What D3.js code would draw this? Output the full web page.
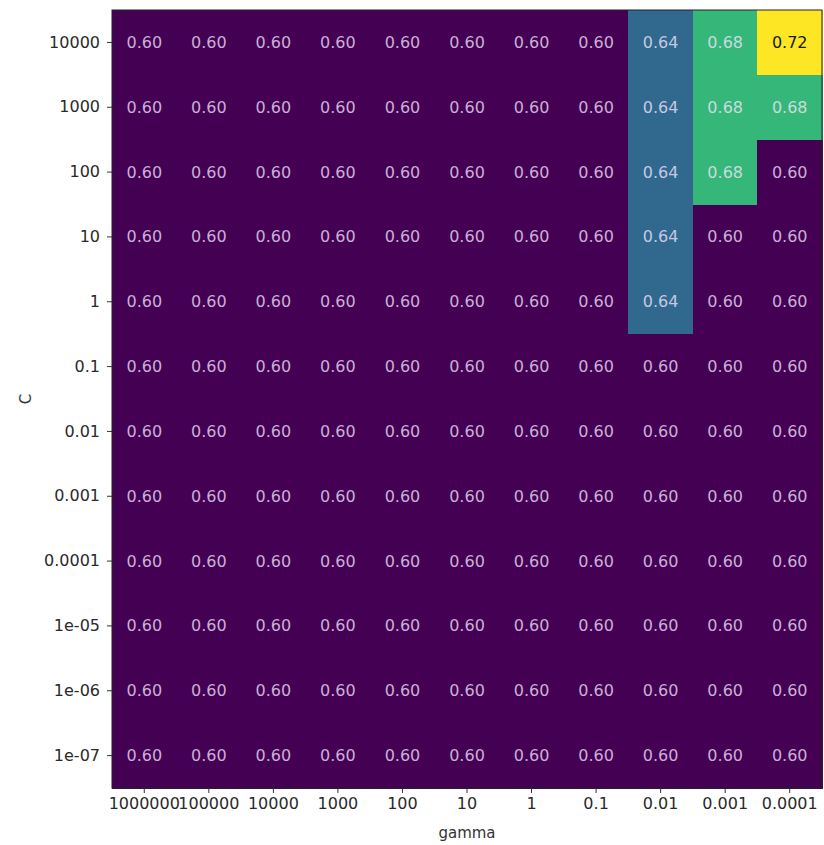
<!DOCTYPE html>
<html>
<head>
<meta charset="utf-8">
<script src="https://cdn.jsdelivr.net/npm/d3@7"></script>
<style>
  html, body { margin: 0; padding: 0; background: #fff; }
  svg { display: block; }
  text { font-family: "DejaVu Sans", sans-serif; }
</style>
</head>
<body>
<svg id="chart" width="824" height="845"></svg>
<script>
// Grid search: mean cross-validation accuracy for each (C, gamma) pair
const gammaLabels = ["1000000", "100000", "10000", "1000", "100", "10", "1", "0.1", "0.01", "0.001", "0.0001"];
const cLabels = ["10000", "1000", "100", "10", "1", "0.1", "0.01", "0.001", "0.0001", "1e-05", "1e-06", "1e-07"];

const row10000 = [0.60, 0.60, 0.60, 0.60, 0.60, 0.60, 0.60, 0.60, 0.64, 0.68, 0.72];
const row1000  = [0.60, 0.60, 0.60, 0.60, 0.60, 0.60, 0.60, 0.60, 0.64, 0.68, 0.68];
const row100   = [0.60, 0.60, 0.60, 0.60, 0.60, 0.60, 0.60, 0.60, 0.64, 0.68, 0.60];
const row10    = [0.60, 0.60, 0.60, 0.60, 0.60, 0.60, 0.60, 0.60, 0.64, 0.60, 0.60];
const row1     = [0.60, 0.60, 0.60, 0.60, 0.60, 0.60, 0.60, 0.60, 0.64, 0.60, 0.60];
const row0_1   = [0.60, 0.60, 0.60, 0.60, 0.60, 0.60, 0.60, 0.60, 0.60, 0.60, 0.60];
const row0_01  = [0.60, 0.60, 0.60, 0.60, 0.60, 0.60, 0.60, 0.60, 0.60, 0.60, 0.60];
const row1e_3  = [0.60, 0.60, 0.60, 0.60, 0.60, 0.60, 0.60, 0.60, 0.60, 0.60, 0.60];
const row1e_4  = [0.60, 0.60, 0.60, 0.60, 0.60, 0.60, 0.60, 0.60, 0.60, 0.60, 0.60];
const row1e_5  = [0.60, 0.60, 0.60, 0.60, 0.60, 0.60, 0.60, 0.60, 0.60, 0.60, 0.60];
const row1e_6  = [0.60, 0.60, 0.60, 0.60, 0.60, 0.60, 0.60, 0.60, 0.60, 0.60, 0.60];
const row1e_7  = [0.60, 0.60, 0.60, 0.60, 0.60, 0.60, 0.60, 0.60, 0.60, 0.60, 0.60];

const scores = [row10000, row1000, row100, row10, row1, row0_1, row0_01,
                row1e_3, row1e_4, row1e_5, row1e_6, row1e_7];

const xLabel = "gamma";
const yLabel = "C";

// Layout
const plot = { left: 112, top: 10, right: 822, bottom: 788 };

const svg = d3.select("#chart");

const x = d3.scaleBand().domain(gammaLabels).range([plot.left, plot.right]).padding(0);
const y = d3.scaleBand().domain(cLabels).range([plot.top, plot.bottom]).padding(0);

const allValues = scores.flat();
const color = d3.scaleSequential(d3.interpolateViridis)
  .domain([d3.min(allValues), d3.max(allValues)]);

const cells = [];
scores.forEach((row, i) => row.forEach((v, j) => {
  cells.push({ c: cLabels[i], g: gammaLabels[j], v });
}));

// Heatmap cells
svg.append("g").selectAll("rect")
  .data(cells)
  .join("rect")
  .attr("x", d => x(d.g))
  .attr("y", d => y(d.c))
  .attr("width", x.bandwidth() + 0.5)
  .attr("height", y.bandwidth() + 0.5)
  .attr("fill", d => color(d.v))
  .attr("shape-rendering", "crispEdges");

// Value annotations: dark text on light cells, light text on dark ones
function isLight(v) {
  const c = d3.rgb(color(v));
  return (c.r + c.g + c.b) / 3 / 255 > 0.5;
}

svg.append("g").selectAll("text")
  .data(cells)
  .join("text")
  .attr("x", d => x(d.g) + x.bandwidth() / 2)
  .attr("y", d => y(d.c) + y.bandwidth() / 2)
  .attr("text-anchor", "middle")
  .attr("dominant-baseline", "central")
  .attr("font-size", 16)
  .attr("fill", d => isLight(d.v) ? "#1a1a1a" : d3.interpolateRgb(color(d.v), "#f4e6ff")(0.76))
  .text(d => d3.format(".2f")(d.v));

// Axes
const xAxis = d3.axisBottom(x).tickSize(5).tickPadding(5);
const yAxis = d3.axisLeft(y).tickSize(5).tickPadding(7);

const gx = svg.append("g")
  .attr("transform", `translate(0,${plot.bottom})`)
  .call(xAxis);
const gy = svg.append("g")
  .attr("transform", `translate(${plot.left},0)`)
  .call(yAxis);

[gx, gy].forEach(g => {
  g.select(".domain").remove();
  g.selectAll(".tick line").attr("stroke", "#333").attr("stroke-width", 1);
  g.selectAll(".tick text")
    .attr("font-family", "DejaVu Sans, sans-serif")
    .attr("font-size", 16)
    .attr("fill", "#2a2a2a");
});

// Frame around the image
svg.append("rect")
  .attr("x", plot.left)
  .attr("y", plot.top)
  .attr("width", plot.right - plot.left)
  .attr("height", plot.bottom - plot.top)
  .attr("fill", "none")
  .attr("stroke", "#222")
  .attr("stroke-width", 1);

// Axis titles
svg.append("text")
  .attr("x", (plot.left + plot.right) / 2)
  .attr("y", 838)
  .attr("text-anchor", "middle")
  .attr("font-size", 15)
  .attr("fill", "#333")
  .text(xLabel);

svg.append("text")
  .attr("transform", `translate(31,${(plot.top + plot.bottom) / 2}) rotate(-90)`)
  .attr("text-anchor", "middle")
  .attr("font-size", 15)
  .attr("fill", "#333")
  .text(yLabel);
</script>
</body>
</html>
